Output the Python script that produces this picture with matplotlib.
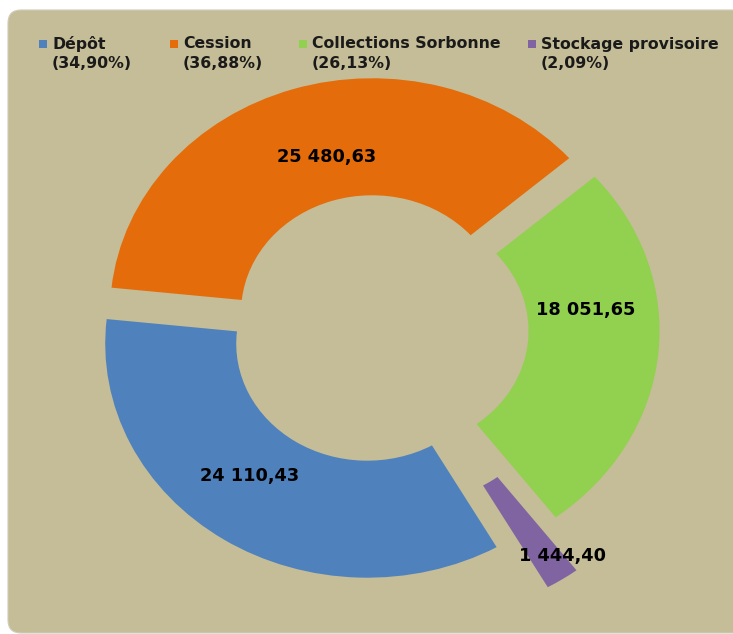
import numpy as np
import matplotlib
matplotlib.use("Agg")
import matplotlib.pyplot as plt
from matplotlib.patches import FancyBboxPatch, Rectangle

# data
categories = ["Dépôt", "Cession", "Collections Sorbonne", "Stockage provisoire"]
values = [24110.43, 25480.63, 18051.65, 1444.40]
colors = ["#4F81BD", "#E46C0A", "#92D050", "#8064A2"]
explode = [0.075, 0.075, 0.075, 0.28]

# label positions (data coords) and legend x positions (pixels)
label_xy = [(-0.49, -0.63), (-0.195, 0.735), (0.794, 0.081), (0.706, -0.97)]
legend_x = [52, 183, 312, 541]

bg = "#C4BD97"
W, H = 733, 634


def fmt_val(v):
    return f"{v:,.2f}".replace(",", " ").replace(".", ",")


def main():
    fig = plt.figure(figsize=(W / 100, H / 100), dpi=100)
    fig.patch.set_facecolor("white")

    # rounded background panel (runs past the right edge)
    panel = FancyBboxPatch((0.08, 0.01), 8.0, 6.23,
                           boxstyle="round,pad=0,rounding_size=0.13",
                           transform=fig.dpi_scale_trans,
                           facecolor=bg, edgecolor="#D0CCB8", linewidth=0.8,
                           zorder=-10)
    fig.patches.append(panel)

    ax = fig.add_axes([0, 0, 1, 1])
    ax.patch.set_alpha(0)
    ax.pie(values, colors=colors, startangle=-60.4, counterclock=False,
           explode=explode, radius=1,
           wedgeprops=dict(width=0.5, linewidth=0))
    ax.set_aspect("auto")
    ax.set_xlim(-378 / 262, (W - 378) / 262)
    ax.set_ylim(-(H - 329) / 234, 329 / 234)
    ax.axis("off")

    for v, (x, y) in zip(values, label_xy):
        ax.text(x, y, fmt_val(v), ha="center", va="center",
                fontsize=12.8, fontweight="bold", color="black")

    # legend (two lines per entry, square aligned with first line)
    total = sum(values)
    for name, v, c, lx in zip(categories, values, colors, legend_x):
        pct = f"({v / total * 100:.2f}%)".replace(".", ",")
        fig.text(lx / W, 1 - 44 / H, name, ha="left", va="center",
                 fontsize=11.3, fontweight="bold", color="#1a1a1a")
        fig.text(lx / W, 1 - 64 / H, pct, ha="left", va="center",
                 fontsize=11.3, fontweight="bold", color="#1a1a1a")
        fig.patches.append(Rectangle(((lx - 13) / W, 1 - 48 / H), 8 / W, 8 / H,
                                     transform=fig.transFigure,
                                     facecolor=c, edgecolor="none"))

    fig.savefig("out.png", dpi=100, facecolor="white")


if __name__ == "__main__":
    main()
